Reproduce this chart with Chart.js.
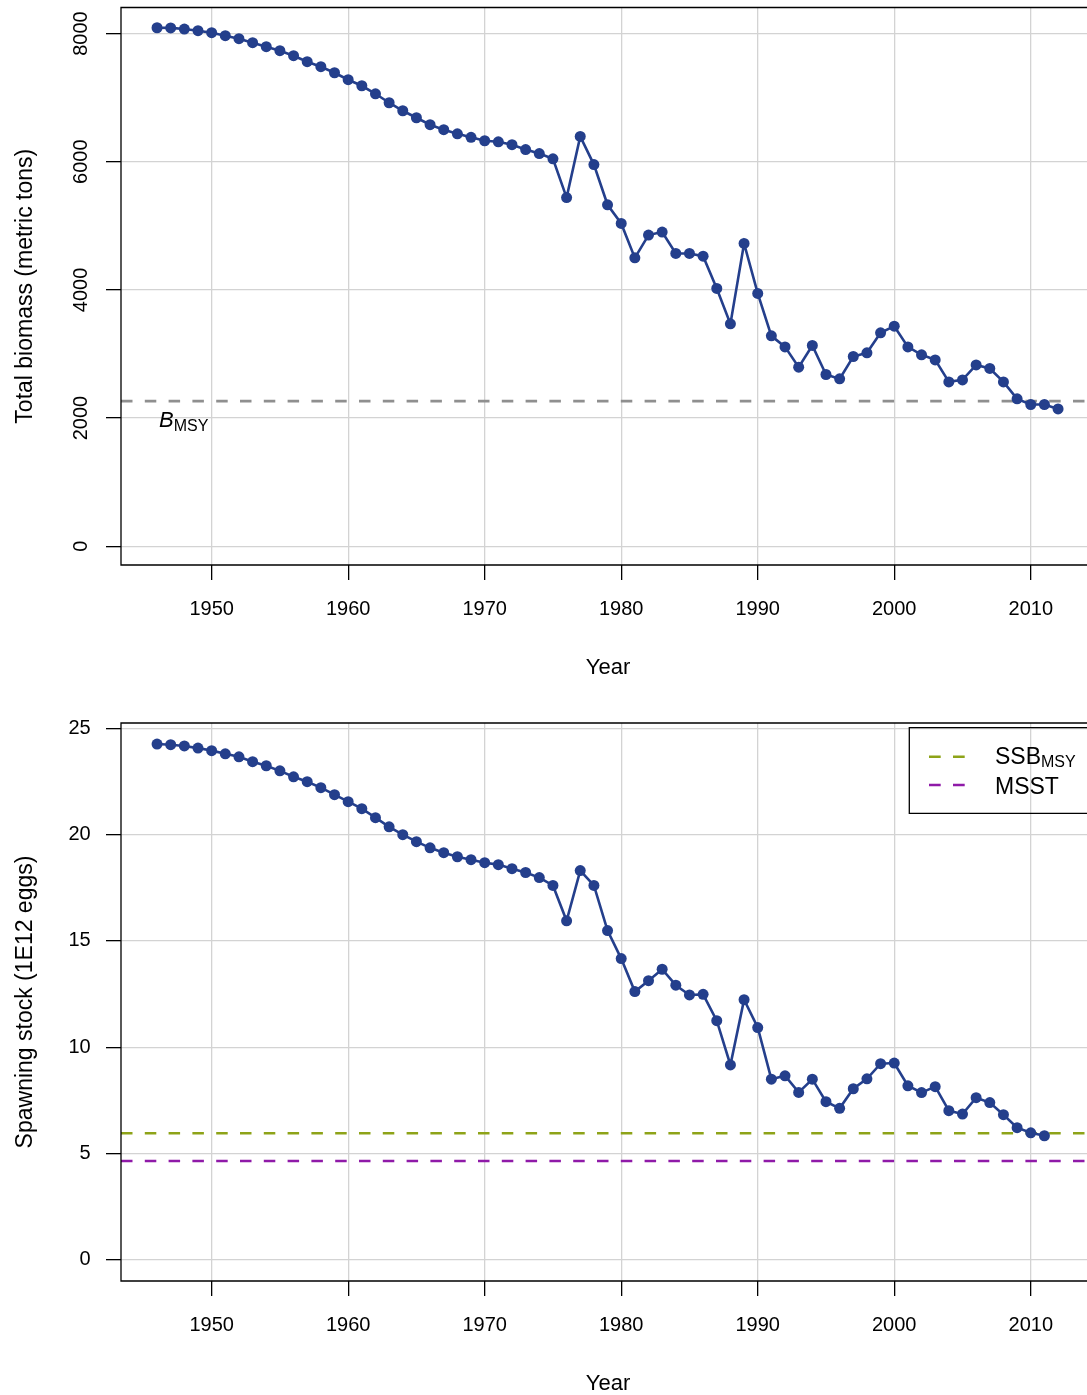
<!DOCTYPE html>
<html>
<head>
<meta charset="utf-8">
<title>Biomass and spawning stock</title>
<script src="https://cdn.jsdelivr.net/npm/chart.js@4.4.1/dist/chart.umd.min.js"></script>
<style>
  html, body { margin: 0; padding: 0; background: #fff; }
  #wrap { position: relative; width: 1087px; height: 1395px; overflow: hidden; }
  #wrap canvas { position: absolute; left: 0; }
</style>
</head>
<body>
<div id="wrap">
  <canvas id="chart-biomass" width="1087" height="700" style="top:0"></canvas>
  <canvas id="chart-ssb" width="1087" height="695" style="top:700px"></canvas>
</div>
<script>
// ── Series ────────────────────────────────────────────────────
const years = [
  1946, 1947, 1948, 1949, 1950, 1951, 1952, 1953, 1954, 1955,
  1956, 1957, 1958, 1959, 1960, 1961, 1962, 1963, 1964, 1965,
  1966, 1967, 1968, 1969, 1970, 1971, 1972, 1973, 1974, 1975,
  1976, 1977, 1978, 1979, 1980, 1981, 1982, 1983, 1984, 1985,
  1986, 1987, 1988, 1989, 1990, 1991, 1992, 1993, 1994, 1995,
  1996, 1997, 1998, 1999, 2000, 2001, 2002, 2003, 2004, 2005,
  2006, 2007, 2008, 2009, 2010, 2011, 2012
];

// total biomass, metric tons (1946-2012)
const biomass = [
  8090, 8088, 8070, 8044, 8013, 7966, 7919, 7857, 7794, 7732,
  7654, 7560, 7482, 7388, 7279, 7185, 7060, 6920, 6795, 6686,
  6577, 6499, 6436, 6380, 6327, 6311, 6265, 6190, 6127, 6046,
  5440, 6395, 5955, 5328, 5037, 4500, 4855, 4902, 4569, 4569,
  4527, 4023, 3470, 4725, 3945, 3283, 3111, 2794, 3133, 2680,
  2612, 2961, 3018, 3330, 3434, 3111, 2987, 2908, 2565, 2596,
  2830, 2774, 2565, 2300, 2212, 2212, 2143
];

// spawning stock, 1E12 eggs (1946-2011)
const ssb = [
  24.26, 24.23, 24.17, 24.07, 23.95, 23.80, 23.66, 23.43, 23.24, 23.00,
  22.72, 22.49, 22.21, 21.88, 21.55, 21.22, 20.80, 20.37, 20.00, 19.67,
  19.38, 19.15, 18.96, 18.82, 18.68, 18.59, 18.40, 18.22, 17.98, 17.61,
  15.95, 18.31, 17.61, 15.49, 14.17, 12.62, 13.13, 13.67, 12.92, 12.46,
  12.49, 11.25, 9.17, 12.24, 10.93, 8.50, 8.66, 7.88, 8.50, 7.44,
  7.13, 8.05, 8.52, 9.23, 9.26, 8.19, 7.87, 8.15, 7.02, 6.86,
  7.63, 7.40, 6.83, 6.22, 5.98, 5.84
];

// reference points
const B_MSY = 2264;
const SSB_MSY = 5.96;
const MSST = 4.65;

// tick values
const yearTicks = [1950, 1960, 1970, 1980, 1990, 2000, 2010];
const biomassTicks = [0, 2000, 4000, 6000, 8000];
const ssbTicks = [0, 5, 10, 15, 20, 25];

// axis ranges
const X_RANGE = [1943.36, 2014.12];
const BIOMASS_RANGE = [-292, 8406];
const SSB_RANGE = [-0.99, 25.25];

const SERIES_COLOR = '#243f8c';
const GRID_COLOR = '#d3d3d3';
const FONT = '"Liberation Sans", Arial, Helvetica, sans-serif';

Chart.defaults.font.family = FONT;
Chart.defaults.font.size = 20;
Chart.defaults.color = '#000';

const toPoints = (xs, ys) => ys.map((y, i) => ({ x: xs[i], y }));
const flatLine = y => [{ x: X_RANGE[0], y }, { x: X_RANGE[1], y }];
const fixedTicks = values => s => { s.ticks = values.map(v => ({ value: v })); };

// text with a smaller subscript after it
function drawSub(ctx, x, y, main, sub, mainFont, subFont, drop) {
  ctx.font = mainFont;
  ctx.fillText(main, x, y);
  const w = ctx.measureText(main).width;
  ctx.font = subFont;
  ctx.fillText(sub, x + w, y + drop);
}

// ── Box, axis titles and annotations ─────────────────────────
const framePlugin = {
  id: 'frame',
  afterDraw(chart, args, opts) {
    const { ctx, chartArea: a } = chart;
    ctx.save();
    ctx.strokeStyle = '#000';
    ctx.lineWidth = 1.3;
    ctx.beginPath();
    ctx.moveTo(a.right + 10, a.top);
    ctx.lineTo(a.left, a.top);
    ctx.lineTo(a.left, a.bottom);
    ctx.lineTo(a.right + 10, a.bottom);
    ctx.stroke();

    ctx.fillStyle = '#000';
    ctx.textBaseline = 'alphabetic';
    ctx.textAlign = 'center';
    ctx.font = '22px ' + FONT;
    ctx.fillText('Year', 608, a.bottom + 109.3);

    ctx.save();
    ctx.translate(32, (a.top + a.bottom) / 2);
    ctx.rotate(-Math.PI / 2);
    ctx.font = '23px ' + FONT;
    ctx.fillText(opts.yTitle, 0, 0);
    ctx.restore();

    // y tick labels drawn parallel to the axis
    if (opts.rotatedTicks) {
      const ys = chart.scales.y;
      ctx.font = '20px ' + FONT;
      ys.ticks.forEach(t => {
        ctx.save();
        ctx.translate(87.3, ys.getPixelForValue(t.value));
        ctx.rotate(-Math.PI / 2);
        ctx.fillText(String(t.value), 0, 0);
        ctx.restore();
      });
    }

    if (opts.draw) opts.draw(chart, ctx);
    ctx.restore();
  }
};

const gridStyle = { color: GRID_COLOR, lineWidth: 1.3, tickLength: 15, tickColor: '#000', tickWidth: 1.3 };

function xScale(height) {
  return {
    type: 'linear',
    min: X_RANGE[0],
    max: X_RANGE[1],
    border: { display: false },
    grid: gridStyle,
    ticks: { padding: 17.5, font: { size: 20 }, callback: v => String(v) },
    afterBuildTicks: fixedTicks(yearTicks),
    afterFit: s => { s.height = height; s.paddingLeft = 0; s.paddingRight = 0; }
  };
}

function yScale(range, values, showTicks) {
  return {
    type: 'linear',
    min: range[0],
    max: range[1],
    border: { display: false },
    grid: gridStyle,
    ticks: { display: showTicks, padding: 15.3, font: { size: 20 }, callback: v => String(v) },
    afterBuildTicks: fixedTicks(values),
    afterFit: s => { s.width = 121; s.paddingTop = 0; s.paddingBottom = 0; }
  };
}

const seriesStyle = {
  borderColor: SERIES_COLOR,
  backgroundColor: SERIES_COLOR,
  borderWidth: 2.6,
  pointRadius: 5.5,
  pointBorderWidth: 0,
  pointBackgroundColor: SERIES_COLOR,
  tension: 0
};

const dashStyle = color => ({
  borderColor: color,
  borderWidth: 2.6,
  borderDash: [11.5, 12.3],
  pointRadius: 0,
  tension: 0
});

// ── Total biomass ─────────────────────────────────────────────
new Chart(document.getElementById('chart-biomass'), {
  type: 'line',
  data: {
    datasets: [
      { label: 'Total biomass', data: toPoints(years, biomass), ...seriesStyle },
      { label: 'BMSY', data: flatLine(B_MSY), ...dashStyle('#8f8f8f') }
    ]
  },
  options: {
    responsive: false,
    animation: false,
    layout: { autoPadding: false, padding: { top: 7.5, right: 0, bottom: 0, left: 0 } },
    scales: { x: xScale(135), y: yScale(BIOMASS_RANGE, biomassTicks, false) },
    plugins: {
      legend: { display: false },
      tooltip: { enabled: false },
      frame: {
        yTitle: 'Total biomass (metric tons)',
        rotatedTicks: true,
        draw(chart, ctx) {
          const x = chart.scales.x.getPixelForValue(1946) + 2;
          const y = chart.scales.y.getPixelForValue(B_MSY) + 26;
          ctx.textAlign = 'left';
          drawSub(ctx, x, y, 'B', 'MSY', 'italic 22px ' + FONT, '16px ' + FONT, 3.5);
        }
      }
    }
  },
  plugins: [framePlugin]
});

// ── Spawning stock ────────────────────────────────────────────
const SSB_COLOR = '#8ea318';
const MSST_COLOR = '#8f1aa8';

new Chart(document.getElementById('chart-ssb'), {
  type: 'line',
  data: {
    datasets: [
      { label: 'Spawning stock', data: toPoints(years, ssb), ...seriesStyle },
      { label: 'SSBMSY', data: flatLine(SSB_MSY), ...dashStyle(SSB_COLOR) },
      { label: 'MSST', data: flatLine(MSST), ...dashStyle(MSST_COLOR) }
    ]
  },
  options: {
    responsive: false,
    animation: false,
    layout: { autoPadding: false, padding: { top: 23, right: 0, bottom: 0, left: 0 } },
    scales: { x: xScale(114), y: yScale(SSB_RANGE, ssbTicks, true) },
    plugins: {
      legend: { display: false },
      tooltip: { enabled: false },
      frame: {
        yTitle: 'Spawning stock (1E12 eggs)',
        draw(chart, ctx) {
          // legend box
          ctx.strokeStyle = '#000';
          ctx.lineWidth = 1.3;
          ctx.beginPath();
          ctx.moveTo(1100, 27.7);
          ctx.lineTo(909.3, 27.7);
          ctx.lineTo(909.3, 113.3);
          ctx.lineTo(1100, 113.3);
          ctx.stroke();

          ctx.lineWidth = 2.6;
          ctx.setLineDash([11.7, 12.3]);
          [[SSB_COLOR, 56.7], [MSST_COLOR, 85]].forEach(([c, y]) => {
            ctx.strokeStyle = c;
            ctx.beginPath();
            ctx.moveTo(929, y);
            ctx.lineTo(965, y);
            ctx.stroke();
          });
          ctx.setLineDash([]);

          ctx.textAlign = 'left';
          ctx.fillStyle = '#000';
          drawSub(ctx, 995, 64.3, 'SSB', 'MSY', '23px ' + FONT, '16px ' + FONT, 2.4);
          ctx.font = '23px ' + FONT;
          ctx.fillText('MSST', 995, 94.3);
        }
      }
    }
  },
  plugins: [framePlugin]
});
</script>
</body>
</html>
